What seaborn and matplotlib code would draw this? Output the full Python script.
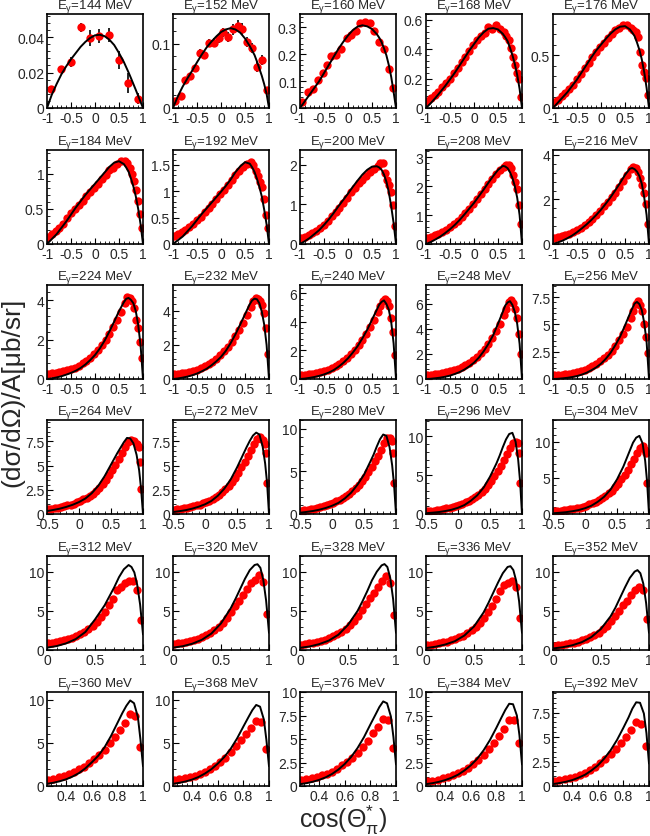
import matplotlib
matplotlib.use("Agg")
import matplotlib.pyplot as plt
import matplotlib.ticker as mticker
import seaborn as sns

sns.set_style("ticks")
plt.rcParams['font.family'] = ['Liberation Sans', 'DejaVu Sans']
plt.rcParams['mathtext.fontset'] = 'custom'
plt.rcParams['mathtext.rm'] = 'Liberation Sans'
plt.rcParams['mathtext.it'] = 'Liberation Sans:italic'
plt.rcParams['mathtext.default'] = 'regular'
plt.rcParams['axes.unicode_minus'] = False

# %% panels
energies = [144, 152, 160, 168, 176,
            184, 192, 200, 208, 216,
            224, 232, 240, 248, 256,
            264, 272, 280, 296, 304,
            312, 320, 328, 336, 352,
            360, 368, 376, 384, 392]
y_top = [0.053, 0.146, 0.35, 0.64, 0.89,
         1.34, 1.78, 2.37, 3.25, 4.22,
         4.78, 5.52, 6.58, 7.49, 8.6,
         9.7, 9.7, 11.0, 12.1, 13.05,
         12.0, 12.0, 12.0, 12.0, 12.0,
         10.9, 10.9, 10.0, 10.0, 9.6]
y_step = [0.02, 0.1, 0.1, 0.2, 0.5,
          0.5, 0.5, 1, 1, 2,
          2, 2, 2, 2, 2.5,
          2.5, 2.5, 5, 5, 5,
          5, 5, 5, 5, 5,
          5, 5, 2.5, 2.5, 2.5]

# %% model curves (black lines)
cx_a = [-1, -0.9, -0.8, -0.7, -0.6, -0.5, -0.4, -0.3, -0.2, -0.1, 0, 0.1, 0.2,
        0.3, 0.4, 0.5, 0.6, 0.65, 0.7, 0.75, 0.8, 0.85, 0.9, 0.95, 1]
c144 = [0, 0.0075, 0.0135, 0.019, 0.0235, 0.0275, 0.031, 0.0345, 0.0373, 0.0395, 0.041, 0.0413, 0.0405,
        0.0385, 0.0355, 0.031, 0.026, 0.023, 0.020, 0.0168, 0.0135, 0.0102, 0.0068, 0.0034, 0]
c152 = [0, 0.018, 0.033, 0.046, 0.058, 0.071, 0.083, 0.094, 0.103, 0.111, 0.118, 0.122, 0.124,
        0.122, 0.117, 0.108, 0.096, 0.089, 0.082, 0.072, 0.061, 0.05, 0.037, 0.022, 0]
c160 = [0, 0.025, 0.05, 0.075, 0.1, 0.13, 0.16, 0.19, 0.22, 0.246, 0.27, 0.29, 0.303,
        0.308, 0.304, 0.294, 0.275, 0.262, 0.245, 0.222, 0.196, 0.16, 0.116, 0.06, 0]
c168 = [0, 0.033, 0.07, 0.11, 0.15, 0.195, 0.24, 0.29, 0.34, 0.39, 0.435, 0.48, 0.515,
        0.54, 0.544, 0.535, 0.505, 0.482, 0.455, 0.41, 0.36, 0.3, 0.225, 0.13, 0]
c176 = [0, 0.05, 0.1, 0.15, 0.21, 0.27, 0.34, 0.41, 0.48, 0.545, 0.6, 0.655, 0.705,
        0.745, 0.77, 0.775, 0.745, 0.715, 0.68, 0.62, 0.55, 0.46, 0.34, 0.19, 0]
c184 = [0, 0.07, 0.14, 0.23, 0.32, 0.42, 0.52, 0.61, 0.7, 0.78, 0.86, 0.94, 1.02,
        1.1, 1.16, 1.18, 1.14, 1.09, 1.03, 0.93, 0.82, 0.68, 0.5, 0.28, 0]
c192 = [0, 0.07, 0.14, 0.24, 0.34, 0.455, 0.57, 0.675, 0.78, 0.885, 0.99, 1.1, 1.22,
        1.36, 1.47, 1.55, 1.52, 1.45, 1.36, 1.23, 1.08, 0.9, 0.65, 0.37, 0]
c200 = [0, 0.07, 0.15, 0.25, 0.35, 0.48, 0.62, 0.78, 0.95, 1.11, 1.27, 1.44, 1.6,
        1.75, 1.87, 1.95, 1.96, 1.93, 1.87, 1.75, 1.57, 1.31, 0.95, 0.53, 0]
c208 = [0, 0.07, 0.16, 0.26, 0.38, 0.51, 0.66, 0.83, 1.02, 1.22, 1.42, 1.65, 1.88,
        2.12, 2.35, 2.56, 2.7, 2.68, 2.62, 2.48, 2.28, 2.0, 1.6, 1.0, 0]
c216 = [0, 0.07, 0.15, 0.26, 0.38, 0.53, 0.7, 0.88, 1.08, 1.3, 1.54, 1.81, 2.1,
        2.42, 2.75, 3.1, 3.38, 3.41, 3.36, 3.25, 3.05, 2.7, 2.1, 1.3, 0]
c224 = [0, 0.03, 0.08, 0.14, 0.22, 0.31, 0.42, 0.56, 0.74, 0.96, 1.22, 1.55, 1.95,
        2.42, 2.92, 3.45, 3.9, 4.08, 4.12, 4.02, 3.85, 3.45, 2.75, 1.7, 0]
c232 = [0, 0.03, 0.08, 0.14, 0.22, 0.32, 0.45, 0.6, 0.8, 1.03, 1.3, 1.65, 2.1,
        2.62, 3.2, 3.8, 4.4, 4.62, 4.72, 4.68, 4.45, 3.95, 3.2, 2.0, 0]
c240 = [0, 0.03, 0.08, 0.14, 0.22, 0.32, 0.45, 0.62, 0.85, 1.12, 1.45, 1.85, 2.3,
        2.85, 3.45, 4.15, 4.85, 5.2, 5.4, 5.5, 5.25, 4.85, 4.0, 2.5, 0]
c248 = [0, 0.02, 0.06, 0.11, 0.18, 0.27, 0.4, 0.55, 0.75, 1.0, 1.3, 1.7, 2.2,
        2.8, 3.5, 4.4, 5.35, 5.85, 6.1, 6.2, 5.9, 5.35, 4.4, 2.8, 0]
c256 = [0, 0.02, 0.06, 0.11, 0.18, 0.27, 0.4, 0.57, 0.8, 1.06, 1.4, 1.85, 2.4,
        3.1, 3.9, 4.9, 5.95, 6.45, 6.9, 7.05, 6.85, 6.3, 5.15, 3.4, 0]

cx_b = [-0.5, -0.4, -0.3, -0.2, -0.1, 0, 0.1, 0.2, 0.3, 0.4, 0.5, 0.6, 0.65, 0.7,
        0.75, 0.8, 0.85, 0.9, 0.94, 0.97, 1]
c264 = [0.3, 0.42, 0.55, 0.73, 0.95, 1.23, 1.6, 2.15, 2.9, 3.9, 5.1, 6.3, 6.85, 7.4,
        7.85, 7.8, 7.3, 6.1, 4.5, 2.6, 0]
c272 = [0.2, 0.29, 0.4, 0.55, 0.75, 1.0, 1.35, 1.88, 2.6, 3.55, 4.8, 6.2, 6.9, 7.55,
        8.1, 8.4, 8.2, 7.0, 5.2, 3.2, 0]
c280 = [0.15, 0.24, 0.35, 0.5, 0.7, 0.96, 1.3, 1.82, 2.5, 3.45, 4.6, 6.15, 6.95, 7.9,
        8.75, 9.3, 9.15, 7.8, 5.7, 3.4, 0]
c296 = [0.1, 0.17, 0.25, 0.38, 0.55, 0.8, 1.15, 1.7, 2.4, 3.4, 4.8, 6.5, 7.5, 8.6,
        9.6, 10.3, 10.45, 9.3, 7.0, 4.2, 0]
c304 = [0.1, 0.17, 0.25, 0.38, 0.55, 0.8, 1.15, 1.7, 2.4, 3.4, 4.8, 6.6, 7.7, 8.8,
        9.9, 10.6, 10.85, 9.8, 7.4, 4.5, 0]

cx_c = [0, 0.1, 0.2, 0.3, 0.4, 0.5, 0.6, 0.65, 0.7, 0.75, 0.8, 0.85, 0.88, 0.91, 0.94, 0.97, 1.0]
c312 = [0.3, 0.5, 0.85, 1.4, 2.3, 3.9, 5.7, 6.85, 8.0, 9.3, 10.3, 10.85, 10.6, 9.9, 8.3, 5.8, 2.0]
c320 = [0.3, 0.48, 0.8, 1.3, 2.1, 3.4, 5.3, 6.5, 7.8, 9.1, 10.2, 10.85, 10.95, 10.5, 9.0, 6.3, 2.2]
c328 = [0.28, 0.45, 0.75, 1.2, 1.95, 3.2, 5.0, 6.2, 7.5, 8.9, 10.0, 10.8, 10.97, 10.6, 9.2, 6.5, 2.2]
c336 = [0.25, 0.42, 0.7, 1.12, 1.85, 3.0, 4.8, 6.0, 7.3, 8.6, 9.8, 10.6, 10.7, 10.2, 8.8, 6.2, 2.2]
c352 = [0.2, 0.35, 0.6, 1.0, 1.65, 2.7, 4.3, 5.4, 6.7, 8.0, 9.2, 10.0, 10.2, 9.8, 8.5, 6.0, 2.2]

cx_d = [0.25, 0.3, 0.35, 0.4, 0.45, 0.5, 0.55, 0.6, 0.65, 0.7, 0.75, 0.8, 0.84, 0.87,
        0.9, 0.93, 0.96, 0.98, 1.0]
c360 = [0.25, 0.38, 0.55, 0.78, 1.1, 1.5, 2.05, 2.75, 3.5, 4.5, 5.8, 7.3, 8.5, 9.3,
        9.92, 9.6, 8.0, 5.4, 2.3]
c368 = [0.25, 0.37, 0.53, 0.75, 1.05, 1.45, 1.95, 2.6, 3.35, 4.3, 5.5, 6.9, 8.0, 8.8,
        9.4, 9.2, 7.7, 5.3, 2.3]
c376 = [0.2, 0.3, 0.45, 0.65, 0.92, 1.28, 1.75, 2.35, 3.1, 4.05, 5.2, 6.55, 7.6, 8.4,
        9.0, 8.8, 7.4, 5.2, 2.3]
c384 = [0.2, 0.3, 0.44, 0.63, 0.88, 1.2, 1.65, 2.2, 2.9, 3.8, 4.9, 6.2, 7.3, 8.1,
        8.75, 8.7, 7.5, 5.4, 2.3]
c392 = [0.2, 0.3, 0.43, 0.6, 0.85, 1.15, 1.58, 2.1, 2.8, 3.65, 4.7, 5.95, 7.0, 7.9,
        8.55, 8.5, 7.4, 5.4, 2.3]

# %% measured points (red)
x144 = [-0.92, -0.71, -0.51, -0.30, -0.11, 0.09, 0.29, 0.49, 0.69, 0.89]
y144 = [0.0108, 0.022, 0.026, 0.0456, 0.0393, 0.0406, 0.041, 0.027, 0.014, 0.0052]
e144 = [0.001, 0.0015, 0.003, 0.0025, 0.0045, 0.004, 0.004, 0.005, 0.0055, 0.003]

x152 = [-0.95, -0.84, -0.74, -0.64, -0.54, -0.44, -0.35, -0.24, -0.15, -0.05,
        0.05, 0.15, 0.25, 0.35, 0.44, 0.55, 0.65, 0.74, 0.85, 0.95]
y152 = [0.0113, 0.019, 0.0436, 0.050, 0.0615, 0.086, 0.082, 0.101, 0.101, 0.108,
        0.118, 0.110, 0.122, 0.128, 0.123, 0.1026, 0.093, 0.064, 0.075, 0.028]
e152 = [0.003, 0.004, 0.004, 0.005, 0.005, 0.006, 0.006, 0.006, 0.007, 0.007,
        0.007, 0.008, 0.008, 0.009, 0.009, 0.008, 0.008, 0.008, 0.008, 0.005]

x160 = [-0.965, -0.826, -0.72, -0.63, -0.53, -0.44, -0.354, -0.26, -0.146, -0.027,
        0.0625, 0.16, 0.26, 0.354, 0.458, 0.55, 0.65, 0.756, 0.86, 0.94]
y160 = [0.022, 0.059, 0.071, 0.104, 0.129, 0.16, 0.194, 0.199, 0.218, 0.26,
        0.272, 0.288, 0.316, 0.321, 0.316, 0.288, 0.247, 0.22, 0.147, 0.074]

bx_a = [-0.98, -0.9, -0.82, -0.74, -0.66, -0.58, -0.5, -0.42, -0.34, -0.26, -0.18,
        -0.1, -0.02, 0.06, 0.14, 0.22, 0.3, 0.38, 0.46, 0.54, 0.62,
        0.67, 0.72, 0.77, 0.82, 0.86, 0.9, 0.94, 0.97]
d168 = [0.05, 0.07, 0.09, 0.11, 0.14, 0.17, 0.2, 0.235, 0.27, 0.31, 0.35,
        0.39, 0.43, 0.46, 0.49, 0.51, 0.55, 0.54, 0.565, 0.54, 0.52,
        0.49, 0.46, 0.41, 0.345, 0.29, 0.235, 0.2, 0.078]
d176 = [0.06, 0.08, 0.11, 0.14, 0.18, 0.22, 0.27, 0.32, 0.38, 0.43, 0.48,
        0.53, 0.58, 0.62, 0.66, 0.7, 0.735, 0.76, 0.785, 0.785, 0.756,
        0.74, 0.715, 0.67, 0.53, 0.41, 0.34, 0.28, 0.12]
d184 = [0.1, 0.14, 0.18, 0.23, 0.29, 0.37, 0.44, 0.5, 0.56, 0.62, 0.68,
        0.74, 0.8, 0.86, 0.92, 0.99, 1.05, 1.09, 1.14, 1.19, 1.18,
        1.16, 1.08, 1.0, 0.9, 0.77, 0.61, 0.43, 0.23]
d192 = [0.15, 0.18, 0.22, 0.27, 0.33, 0.38, 0.45, 0.52, 0.6, 0.68, 0.76,
        0.85, 0.94, 1.03, 1.12, 1.22, 1.3, 1.38, 1.46, 1.52, 1.55,
        1.5, 1.38, 1.28, 1.17, 1.08, 0.85, 0.55, 0.3]
d200 = [0.15, 0.18, 0.22, 0.28, 0.34, 0.41, 0.49, 0.59, 0.7, 0.8, 0.92,
        1.04, 1.17, 1.3, 1.42, 1.53, 1.62, 1.72, 1.82, 1.9, 1.97,
        2.03, 2.04, 1.8, 1.62, 1.5, 1.3, 0.99, 0.46]
d208 = [0.2, 0.25, 0.3, 0.36, 0.42, 0.5, 0.58, 0.68, 0.8, 0.92, 1.06,
        1.2, 1.38, 1.55, 1.72, 1.9, 2.08, 2.25, 2.42, 2.56, 2.66,
        2.72, 2.74, 2.62, 2.4, 2.15, 1.9, 1.35, 0.68]
d216 = [0.27, 0.3, 0.34, 0.4, 0.47, 0.54, 0.62, 0.72, 0.84, 0.98, 1.13,
        1.3, 1.5, 1.7, 1.9, 2.1, 2.3, 2.55, 2.82, 3.08, 3.35,
        3.45, 3.4, 3.22, 2.95, 2.65, 2.3, 1.8, 0.91]
d224 = [0.25, 0.28, 0.31, 0.35, 0.4, 0.45, 0.51, 0.58, 0.68, 0.8, 0.93,
        1.08, 1.28, 1.48, 1.72, 2.0, 2.3, 2.65, 3.0, 3.4, 3.85,
        4.15, 4.12, 3.95, 3.6, 3.0, 2.6, 1.9, 1.08]
d232 = [0.28, 0.3, 0.33, 0.37, 0.42, 0.48, 0.55, 0.63, 0.74, 0.87, 1.02,
        1.2, 1.4, 1.62, 1.88, 2.18, 2.5, 2.88, 3.3, 3.75, 4.25,
        4.6, 4.75, 4.72, 4.6, 4.35, 3.85, 2.98, 1.44]
d240 = [0.28, 0.3, 0.33, 0.37, 0.42, 0.48, 0.55, 0.64, 0.76, 0.9, 1.06,
        1.25, 1.48, 1.74, 2.02, 2.35, 2.72, 3.15, 3.62, 4.12, 4.7,
        5.1, 5.45, 5.6, 5.45, 5.1, 4.3, 3.3, 1.67]
d248 = [0.32, 0.34, 0.37, 0.41, 0.46, 0.52, 0.6, 0.7, 0.82, 0.96, 1.12,
        1.3, 1.52, 1.78, 2.08, 2.42, 2.82, 3.28, 3.8, 4.4, 5.1,
        5.6, 6.1, 6.3, 6.05, 5.6, 4.9, 3.6, 2.0]
d256 = [0.35, 0.37, 0.4, 0.44, 0.49, 0.55, 0.63, 0.73, 0.86, 1.0, 1.18,
        1.38, 1.62, 1.9, 2.22, 2.6, 3.04, 3.55, 4.12, 4.8, 5.6,
        6.2, 6.9, 7.15, 6.8, 6.2, 5.0, 3.8, 2.4]

bx_b = [-0.48, -0.43, -0.38, -0.33, -0.28, -0.23, -0.18, -0.13, -0.08, -0.03,
        0.02, 0.07, 0.12, 0.17, 0.22, 0.27, 0.32, 0.37, 0.42, 0.47,
        0.52, 0.57, 0.62, 0.67, 0.72, 0.77, 0.82, 0.86, 0.9, 0.93, 0.955, 0.975]
d264 = [0.5, 0.55, 0.6, 0.66, 0.72, 0.8, 0.88, 0.98, 1.08, 1.2,
        1.35, 1.5, 1.68, 1.88, 2.1, 2.38, 2.7, 3.05, 3.5, 4.0,
        4.55, 5.1, 5.7, 6.3, 6.9, 7.4, 7.65, 7.5, 7.2, 6.9, 5.4, 2.6]
d272 = [0.42, 0.47, 0.52, 0.58, 0.64, 0.71, 0.79, 0.88, 0.98, 1.1,
        1.23, 1.38, 1.55, 1.75, 1.98, 2.24, 2.55, 2.9, 3.3, 3.75,
        4.25, 4.8, 5.4, 6.0, 6.6, 7.2, 7.7, 7.95, 7.6, 7.2, 6.25, 3.2]
d280 = [0.4, 0.45, 0.5, 0.56, 0.62, 0.7, 0.79, 0.9, 1.02, 1.15,
        1.3, 1.47, 1.65, 1.86, 2.1, 2.37, 2.68, 3.02, 3.4, 3.85,
        4.35, 4.9, 5.5, 6.15, 6.8, 7.5, 8.3, 8.85, 8.9, 8.5, 7.1, 3.66]
d296 = [0.35, 0.4, 0.45, 0.5, 0.56, 0.63, 0.71, 0.8, 0.9, 1.02,
        1.16, 1.32, 1.5, 1.7, 1.93, 2.2, 2.5, 2.85, 3.25, 3.7,
        4.25, 4.85, 5.5, 6.2, 6.95, 7.7, 8.5, 9.1, 9.3, 9.1, 7.9, 4.0]
d304 = [0.35, 0.4, 0.45, 0.5, 0.56, 0.63, 0.71, 0.8, 0.9, 1.02,
        1.16, 1.32, 1.5, 1.7, 1.93, 2.2, 2.5, 2.85, 3.25, 3.7,
        4.2, 4.8, 5.45, 6.15, 6.9, 7.7, 8.5, 9.2, 9.4, 8.9, 8.4, 4.3]

dx_c = [0.012, 0.054, 0.096, 0.138, 0.18, 0.222, 0.264, 0.306, 0.348, 0.39, 0.432, 0.474,
        0.516, 0.558, 0.6, 0.642, 0.684, 0.726, 0.768, 0.81, 0.852, 0.894, 0.936, 0.978]
d312 = [0.84, 0.9, 1.0, 1.1, 1.22, 1.38, 1.55, 1.75, 2.0, 2.3, 2.65, 3.1,
        3.6, 4.2, 4.9, 5.7, 6.5, 7.6, 8.1, 8.5, 8.8, 8.86, 7.6, 3.8]
d320 = [0.8, 0.86, 0.95, 1.05, 1.17, 1.3, 1.46, 1.65, 1.88, 2.15, 2.5, 2.95,
        3.45, 4.05, 4.8, 5.6, 6.3, 7.0, 7.8, 8.5, 9.0, 9.6, 8.73, 4.64]
d328 = [0.7, 0.76, 0.84, 0.93, 1.04, 1.17, 1.33, 1.52, 1.74, 2.0, 2.32, 2.72,
        3.2, 3.75, 4.4, 5.1, 5.85, 6.6, 7.3, 8.0, 8.8, 9.4, 8.5, 4.5]
d336 = [0.65, 0.7, 0.77, 0.86, 0.96, 1.08, 1.22, 1.4, 1.6, 1.85, 2.15, 2.52,
        2.95, 3.5, 4.1, 4.8, 5.6, 6.5, 7.5, 8.3, 8.6, 8.86, 8.0, 4.1]
d352 = [0.55, 0.6, 0.66, 0.74, 0.83, 0.94, 1.07, 1.22, 1.4, 1.62, 1.9, 2.22,
        2.62, 3.1, 3.65, 4.3, 5.0, 5.7, 6.3, 7.0, 7.6, 8.1, 7.6, 3.9]

dx_d = [0.26, 0.3, 0.34, 0.38, 0.42, 0.46, 0.5, 0.54, 0.58, 0.62, 0.66, 0.7,
        0.74, 0.78, 0.82, 0.86, 0.9, 0.94, 0.98]
d360 = [0.7, 0.86, 1.05, 1.17, 1.36, 1.63, 1.95, 2.22, 2.65, 3.1, 3.58, 4.2,
        5.0, 5.7, 6.5, 7.3, 8.37, 8.17, 4.47]
d368 = [0.7, 0.8, 0.92, 1.05, 1.2, 1.4, 1.65, 1.95, 2.3, 2.75, 3.3, 3.9,
        4.6, 5.3, 6.0, 6.7, 7.5, 7.4, 4.28]
d376 = [0.65, 0.72, 0.82, 0.95, 1.13, 1.31, 1.52, 1.84, 2.2, 2.55, 3.0, 3.48,
        4.15, 4.79, 5.6, 6.28, 7.16, 6.99, 4.08]
d384 = [0.5, 0.58, 0.68, 0.8, 0.95, 1.12, 1.33, 1.6, 1.92, 2.3, 2.8, 3.35,
        3.95, 4.6, 5.3, 6.1, 7.0, 7.05, 4.6]
d392 = [0.51, 0.6, 0.7, 0.82, 0.97, 1.15, 1.36, 1.62, 1.92, 2.3, 2.75, 3.25,
        3.8, 4.4, 5.0, 5.7, 6.5, 6.3, 4.1]

# %% collect per panel
curves = [c144, c152, c160, c168, c176, c184, c192, c200, c208, c216,
          c224, c232, c240, c248, c256, c264, c272, c280, c296, c304,
          c312, c320, c328, c336, c352, c360, c368, c376, c384, c392]
curve_x = [cx_a] * 15 + [cx_b] * 5 + [cx_c] * 5 + [cx_d] * 5
points = [y144, y152, y160, d168, d176, d184, d192, d200, d208, d216,
          d224, d232, d240, d248, d256, d264, d272, d280, d296, d304,
          d312, d320, d328, d336, d352, d360, d368, d376, d384, d392]
points_x = [x144, x152, x160] + [bx_a] * 12 + [bx_b] * 5 + [dx_c] * 5 + [dx_d] * 5
errors = {0: e144, 1: e152}

row_xlim = [(-1, 1), (-1, 1), (-1, 1), (-0.5, 1), (0, 1), (0.25, 1)]
row_xticks = [[-1, -0.5, 0, 0.5, 1]] * 3 + [[-0.5, 0, 0.5, 1], [0, 0.5, 1], [0.4, 0.6, 0.8, 1]]

col_left = [47, 173, 300, 426, 553]
row_top = [15, 151, 286, 421, 557, 693]
W, H = 650, 837

fig = plt.figure(figsize=(6.5, 8.37), dpi=100)
fmt = mticker.FuncFormatter(lambda v, p: '%g' % round(v, 6))

for i, e in enumerate(energies):
    r, c = divmod(i, 5)
    ax = fig.add_axes([col_left[c] / W, 1 - (row_top[r] + 94) / H, 96 / W, 94 / H])
    if i in errors:
        ax.errorbar(points_x[i], points[i], yerr=errors[i], fmt='none',
                    ecolor='black', elinewidth=1.2, capsize=0, zorder=1)
    sns.scatterplot(x=points_x[i], y=points[i], ax=ax, color='red', s=36,
                    linewidth=0, zorder=2)
    sns.lineplot(x=curve_x[i], y=curves[i], ax=ax, color='black', lw=1.4, zorder=3)

    ax.set_xlim(*row_xlim[r])
    ax.set_ylim(0, y_top[i])
    ax.set_xticks(row_xticks[r])
    ax.yaxis.set_major_locator(mticker.MultipleLocator(y_step[i]))
    ax.xaxis.set_minor_locator(mticker.AutoMinorLocator(5))
    ax.yaxis.set_minor_locator(mticker.AutoMinorLocator(5))
    ax.xaxis.set_major_formatter(fmt)
    ax.yaxis.set_major_formatter(fmt)
    ax.tick_params(which='both', direction='in', top=False, right=False,
                   labelsize=10, pad=2, color='black')
    ax.tick_params(which='major', length=4, width=0.8)
    ax.tick_params(which='minor', length=2, width=0.6)
    for s in ax.spines.values():
        s.set_linewidth(1.2)
        s.set_color('black')
    ax.set_xlabel('')
    ax.set_ylabel('')
    ax.set_title(r'E$_\gamma$=%d MeV' % e, fontsize=9.5, pad=1)

fig.text(12 / W, 1 - 392 / H, '(dσ/dΩ)/A[μb/sr]', rotation=90, fontsize=19,
         ha='center', va='center')
fig.text(343 / W, 1 - 820 / H, r'cos($\Theta_{\pi}^{*}$)', fontsize=18,
         ha='center', va='center')

plt.savefig('out.png', dpi=100)
